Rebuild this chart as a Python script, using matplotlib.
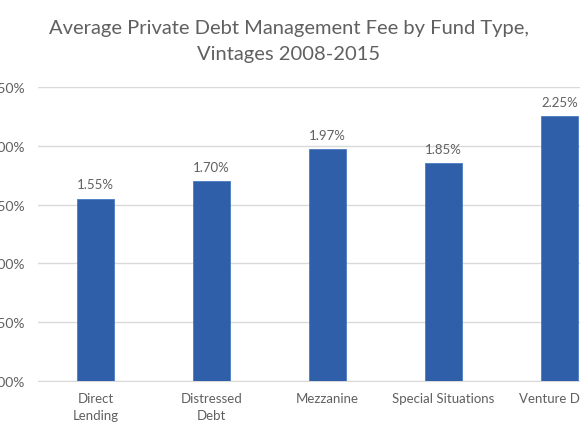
import matplotlib
matplotlib.use("Agg")
import matplotlib.pyplot as plt

categories = ["Direct\nLending", "Distressed\nDebt", "Mezzanine", "Special Situations", "Venture Debt"]
fees = [1.55, 1.70, 1.97, 1.85, 2.25]
yticks = [0.0, 0.5, 1.0, 1.5, 2.0, 2.5]
ytick_labels = ["0.00%", "0.50%", "1.00%", "1.50%", "2.00%", "2.50%"]
value_labels = ["1.55%", "1.70%", "1.97%", "1.85%", "2.25%"]
title = "Average Private Debt Management Fee by Fund Type,\nVintages 2008-2015"

plt.rcParams['font.family'] = ['Lato', 'DejaVu Sans']
text_gray = "#606060"

fig = plt.figure(figsize=(5.8, 4.35), dpi=100)
ax = fig.add_axes([37.5/580, 53/435, 580/580, 294/435])
x = list(range(len(categories)))
ax.bar(x, fees, width=0.32, color="#2E5FA8", edgecolor="#4A7BC4", linewidth=0.6, zorder=3)
ax.set_xlim(-0.5, len(categories) - 0.5)
ax.set_ylim(0, 2.5)
ax.set_yticks(yticks)
ax.set_yticklabels(ytick_labels)
ax.set_xticks(x)
ax.set_xticklabels(categories, linespacing=1.45)
ax.grid(axis="y", color="#d9d9d9", linewidth=1.0, zorder=0)
for s in ["top", "right", "left"]:
    ax.spines[s].set_visible(False)
ax.spines["bottom"].set_color("#d9d9d9")
ax.tick_params(axis="both", length=0, labelsize=9.5, labelcolor=text_gray)
ax.tick_params(axis="y", pad=9, labelsize=10)
ax.tick_params(axis="x", pad=8)
for xi, v, lab in zip(x, fees, value_labels):
    ax.annotate(lab, (xi, v), xytext=(0, 6), textcoords="offset points",
                ha="center", va="bottom", fontsize=9.5, color=text_gray)
fig.text(0.498, 0.955, title, ha="center", va="top", fontsize=14.5,
         color=text_gray, linespacing=1.7)
fig.savefig("out.png", dpi=100)
